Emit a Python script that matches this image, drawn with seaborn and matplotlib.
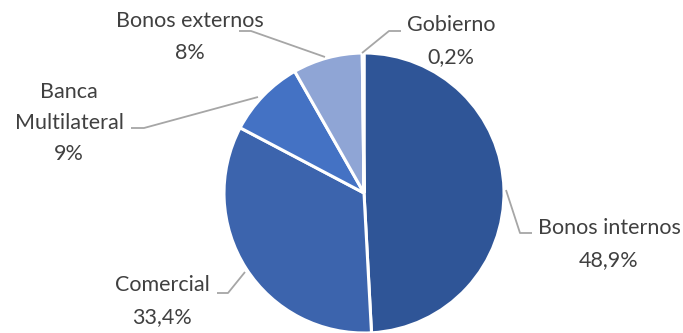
import matplotlib
matplotlib.use("Agg")
import matplotlib.pyplot as plt
import seaborn as sns

# Data
categories = ["Bonos internos", "Comercial", "Banca Multilateral", "Bonos externos", "Gobierno"]
values = [48.9, 33.4, 9.0, 8.0, 0.2]
pct_labels = ["48,9%", "33,4%", "9%", "8%", "0,2%"]
display_names = ["Bonos internos", "Comercial", "Banca\nMultilateral", "Bonos externos", "Gobierno"]
colors = ["#2F5597", "#3C64AD", "#4472C4", "#8FA5D5", "#B4C7E7"]

sns.set_theme(style="white")
plt.rcParams['font.family'] = ['Lato', 'DejaVu Sans']

W, H = 683, 333
fig = plt.figure(figsize=(W / 100, H / 100), dpi=100)
ax = fig.add_axes([0, 0, 1, 1])

def P(x, y):
    return (x, H - y)

cx, cy = P(364, 193)
ax.pie(values, colors=sns.color_palette(colors), startangle=90, counterclock=False,
       radius=140, center=(cx, cy),
       wedgeprops=dict(edgecolor="white", linewidth=2.2))
ax.set_xlim(0, W)
ax.set_ylim(0, H)
ax.set_aspect("equal")
ax.axis("off")

text_color = "#404040"
line_color = "#A6A6A6"
fs = 15.5

# label positions (pixel coords of text center) and leader lines
label_pos = {
    "Bonos internos": (609, 244),
    "Comercial": (162, 301),
    "Banca Multilateral": (69, 123),
    "Bonos externos": (190, 37),
    "Gobierno": (451, 41),
}
leaders = {
    "Bonos internos": [(506, 190), (520, 233), (532, 233)],
    "Comercial": [(245, 272), (228, 293), (217, 293)],
    "Banca Multilateral": [(258, 97), (144, 128), (131, 128)],
    "Bonos externos": [(325, 57), (251, 31), (239, 31)],
    "Gobierno": [(362, 53), (389, 31), (401, 31)],
}

for cat, name, pct in zip(categories, display_names, pct_labels):
    x, y = P(*label_pos[cat])
    ax.text(x, y, f"{name}\n{pct}", ha="center", va="center", fontsize=fs,
            color=text_color, linespacing=1.7)
    pts = [P(*p) for p in leaders[cat]]
    ax.plot([p[0] for p in pts], [p[1] for p in pts], color=line_color, lw=1.3,
            solid_capstyle="butt")

fig.savefig("out.png", dpi=100)
